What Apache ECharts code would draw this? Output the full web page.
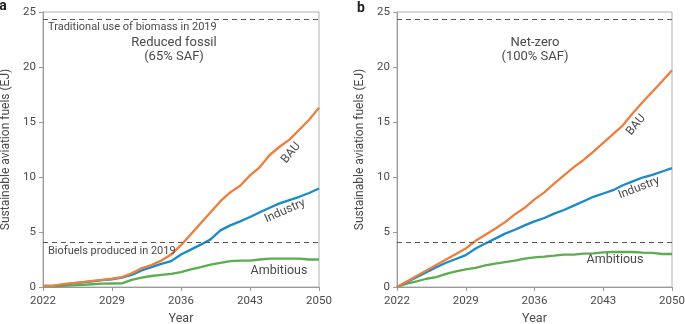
<!DOCTYPE html>
<html>
<head>
<meta charset="utf-8">
<script src="https://cdn.jsdelivr.net/npm/echarts@6/dist/echarts.min.js"></script>
<style>html,body{margin:0;padding:0;background:#fff;}#c{width:685px;height:324px;}</style>
</head>
<body>
<div id="c"></div>
<script>
const years = [2022,2023,2024,2025,2026,2027,2028,2029,2030,2031,2032,2033,2034,2035,2036,2037,2038,2039,2040,2041,2042,2043,2044,2045,2046,2047,2048,2049,2050];
const xTicks = [2022, 2029, 2036, 2043, 2050];
const yTicks = [0, 5, 10, 15, 20, 25];

// Panel a: Reduced fossil (65% SAF)
const bauA       = [0.1,0.1,0.25,0.35,0.45,0.55,0.65,0.75,0.9,1.24,1.7,2.0,2.4,2.95,3.8,4.8,5.8,6.8,7.8,8.6,9.2,10.15,10.9,12.0,12.75,13.4,14.3,15.2,16.3];
const industryA  = [0.1,0.1,0.2,0.33,0.42,0.52,0.62,0.7,0.85,1.09,1.5,1.8,2.1,2.35,2.95,3.4,3.85,4.33,5.15,5.6,5.97,6.36,6.8,7.2,7.6,7.9,8.2,8.55,8.95];
const ambitiousA = [0.05,0.05,0.1,0.15,0.2,0.25,0.3,0.32,0.33,0.64,0.85,1.0,1.1,1.2,1.36,1.6,1.8,2.03,2.2,2.36,2.4,2.4,2.5,2.58,2.58,2.58,2.58,2.5,2.5];

// Panel b: Net-zero (100% SAF)
const bauB       = [0,0.5,1.0,1.5,2.0,2.5,3.0,3.5,4.2,4.75,5.3,5.9,6.6,7.2,7.97,8.6,9.4,10.15,10.9,11.55,12.3,13.1,13.9,14.7,15.8,16.8,17.75,18.7,19.7];
const industryB  = [0,0.45,0.9,1.35,1.8,2.2,2.55,2.9,3.5,3.95,4.4,4.85,5.2,5.6,5.97,6.27,6.67,7.0,7.4,7.8,8.2,8.5,8.8,9.25,9.6,9.95,10.2,10.5,10.8];
const ambitiousB = [0,0.3,0.52,0.75,0.9,1.2,1.43,1.6,1.73,1.97,2.12,2.27,2.4,2.57,2.7,2.77,2.85,2.94,2.94,3.03,3.06,3.15,3.18,3.18,3.18,3.12,3.1,3.0,3.0];

// Reference levels
const biomass2019 = 24.3;
const biofuels2019 = 4.1;

const seriesNames = ['BAU', 'Industry', 'Ambitious'];
const colors = ['#EC7E40', '#1A8BC8', '#5CAD50'];

const FONT = 'Roboto, "Liberation Sans", sans-serif';
const TXT = '#4a4a4a';

function pairs(v){ return years.map((y,i)=>[y, v[i]]); }

function xAxis(idx){
  return {
    type:'value', gridIndex:idx, min:xTicks[0], max:xTicks[xTicks.length-1], interval:7,
    name:'Year', nameLocation:'middle', nameGap:25,
    nameTextStyle:{color:TXT, fontSize:12.5, fontFamily:FONT},
    axisLine:{lineStyle:{color:'#9a9a9a', width:1}},
    axisTick:{show:true, length:4, lineStyle:{color:'#9a9a9a'}},
    axisLabel:{color:TXT, fontSize:11.5, fontFamily:FONT, margin:8, formatter:v=>String(v)},
    splitLine:{show:false}
  };
}
function yAxis(idx){
  return {
    type:'value', gridIndex:idx, min:yTicks[0], max:yTicks[yTicks.length-1], interval:5,
    name:'Sustainable aviation fuels (EJ)', nameLocation:'middle', nameGap:31,
    nameTextStyle:{color:TXT, fontSize:12, fontFamily:FONT},
    axisLine:{show:true, lineStyle:{color:'#9a9a9a', width:1}},
    axisTick:{show:true, length:4, lineStyle:{color:'#9a9a9a'}},
    axisLabel:{color:TXT, fontSize:11.5, fontFamily:FONT, margin:7},
    splitLine:{show:false}
  };
}
function lineSeries(name, data, idx, color, withMarks){
  const s = {
    type:'line', name, xAxisIndex:idx, yAxisIndex:idx, data:pairs(data),
    showSymbol:false, symbol:'none', smooth:false,
    lineStyle:{color, width:2.3}, itemStyle:{color}, z:3, silent:true
  };
  if (withMarks){
    s.markLine = {
      silent:true, symbol:['none','none'], label:{show:false},
      lineStyle:{color:'#555', type:[5,4], width:1},
      data:[{yAxis:biomass2019},{yAxis:biofuels2019}]
    };
  }
  return s;
}

const chart = echarts.init(document.getElementById('c'), null, {renderer:'canvas'});
function txt(x,y,text,opt){
  opt = opt||{};
  return {type:'text', x, y, rotation:(opt.rot||0)*Math.PI/180, z:10,
    style:{text, fill:opt.color||TXT, font:(opt.weight||'normal')+' '+(opt.size||12)+'px '+FONT,
      textAlign:opt.align||'center', textVerticalAlign:'middle'}};
}
chart.setOption({
  animation:false,
  grid:[
    {left:43, width:276, top:12, height:275, containLabel:false, outerBoundsMode:'none', show:true, borderColor:'#b0b0b0', borderWidth:1, backgroundColor:'transparent'},
    {left:397, width:275, top:12, height:275, containLabel:false, outerBoundsMode:'none', show:true, borderColor:'#b0b0b0', borderWidth:1, backgroundColor:'transparent'}
  ],
  xAxis:[xAxis(0), xAxis(1)],
  yAxis:[yAxis(0), yAxis(1)],
  series:[
    lineSeries(seriesNames[2], ambitiousA, 0, colors[2], true),
    lineSeries(seriesNames[1], industryA, 0, colors[1], false),
    lineSeries(seriesNames[0], bauA, 0, colors[0], false),
    lineSeries(seriesNames[2], ambitiousB, 1, colors[2], true),
    lineSeries(seriesNames[1], industryB, 1, colors[1], false),
    lineSeries(seriesNames[0], bauB, 1, colors[0], false)
  ],
  graphic:[
    txt(3,6,'a',{weight:'bold', size:14, color:'#222'}),
    txt(361,8,'b',{weight:'bold', size:14, color:'#222'}),
    txt(48,27,'Traditional use of biomass in 2019',{align:'left', size:11}),
    txt(48,251,'Biofuels produced in 2019',{align:'left', size:11}),
    txt(174,43,'Reduced fossil',{size:13}),
    txt(174,57,'(65% SAF)',{size:13}),
    txt(535,43,'Net-zero',{size:13}),
    txt(535,57,'(100% SAF)',{size:13}),
    txt(291,153,'BAU',{rot:50, size:12}),
    txt(285,211,'Industry',{rot:24, size:12}),
    txt(279,271,'Ambitious',{size:12.5}),
    txt(636,125,'BAU',{rot:50, size:12}),
    txt(639,188,'Industry',{rot:21, size:12}),
    txt(615,260,'Ambitious',{size:12.5})
  ]
});
</script>
</body>
</html>
